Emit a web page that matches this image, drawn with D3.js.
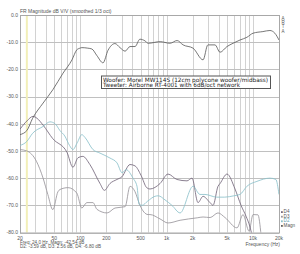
<!DOCTYPE html>
<html>
<head>
<meta charset="utf-8">
<script src="https://cdn.jsdelivr.net/npm/d3@7"></script>
<style>
  body { margin: 0; background: #fff; }
  svg { display: block; font-family: "Liberation Sans", Arial, sans-serif; }
</style>
</head>
<body>
<div id="chart"></div>
<script>
var width = 300,
    height = 254;

// frequency response, dB V/V
var magnFreq = [20, 24, 28, 37, 48, 63, 80, 91, 99, 104, 122, 136, 156, 183, 209, 252, 288, 330, 376, 430, 490, 560, 610, 840, 1090, 1320, 1550, 2020, 2640, 3000, 3630, 4150, 5000, 5870, 7070, 8500, 10000, 13000, 15700, 17900, 20000];
var magnDb = [-44, -42.5, -38, -32.4, -27.5, -21.4, -16.5, -12.8, -12.2, -12, -12.2, -12.5, -15, -17.6, -13, -10.5, -12, -13.3, -11.6, -11.6, -8.9, -9.5, -10.4, -9.8, -10.4, -9.4, -11, -12.2, -16.5, -11, -11, -13.7, -11.6, -10.4, -9.2, -8.2, -6.7, -6.1, -5.7, -6.7, -9.2];

var d2Freq = [20, 24, 28, 37, 44.5, 51, 58, 66, 75, 82, 92, 104, 113, 140, 169, 220, 266, 304, 340, 407, 453, 480, 520, 600, 730, 800, 956, 1150, 1430, 2020, 2430, 2780, 3800, 4700, 6000, 7070, 8500, 11100, 15700, 18400, 20000];
var d2Db = [-48, -46.5, -43.5, -41, -39.3, -40, -42.5, -44.5, -48, -49.5, -47, -44, -45, -49.5, -50.8, -52.6, -54.4, -58, -56.9, -60, -63, -69.7, -70, -68.5, -66.7, -66.5, -68, -70, -72.8, -63, -66, -66, -67, -67, -66.5, -66, -63, -61.2, -60, -60.5, -66];

var d3Freq = [20, 24, 31, 37, 42, 48, 55, 58, 72, 91, 104, 119, 140, 156, 204, 252, 330, 376, 430, 490, 608, 640, 837, 1036, 1430, 2260, 2640, 3180, 3930, 4740, 6530, 7660, 9000, 10000, 11400, 12400];
var d3Db = [-49.5, -50, -53.8, -60, -66, -71.6, -65, -64.2, -63.5, -65.5, -71, -69, -69, -71.5, -72.8, -71, -70.5, -63, -65, -70, -73.4, -73.4, -75, -76.5, -75.5, -74.6, -74.3, -74.5, -72.8, -74.5, -78.3, -73.4, -79.5, -73.4, -73.5, -81];

var d4Freq = [20, 24, 28.3, 31.5, 37, 48, 70, 82, 94, 107, 129, 169, 190, 220, 265, 303, 376, 430, 505, 587, 640, 837, 1036, 1317, 1720, 1966, 2307, 2637, 3176, 3441, 3933, 4148, 5000, 6189, 7262, 8298, 9233, 9739];
var d4Db = [-42, -39, -37.3, -38, -40.5, -45.5, -50.5, -56, -52.5, -52, -55, -62, -64.5, -62, -60.5, -59.5, -55, -55.5, -59, -63.5, -64, -62, -58.5, -60.5, -61, -60, -69, -66.7, -69, -70, -63, -62, -58.5, -64, -70, -74, -78, -81];

var xTicks = [20, 50, 100, 200, 500, 1000, 2000, 5000, 10000, 20000];
var xTickLabels = ["20", "50", "100", "200", "500", "1k", "2k", "5k", "10k", "20k"];
var xGrid = [30, 40, 50, 60, 70, 80, 90, 100, 200, 300, 400, 500, 600, 700, 800, 900, 1000, 2000, 3000, 4000, 5000, 6000, 7000, 8000, 9000, 10000];
var yTicks = [0, -10, -20, -30, -40, -50, -60, -70, -80];
var cursorFreq = 24;

var legendNames = ["D4", "D3", "D2", "Magn"];
var legendColors = ["#75687c", "#9a969c", "#8cc2cb", "#5e5e5e"];

var svg = d3.select("#chart").append("svg").attr("width", width).attr("height", height);

var x = d3.scaleLog().domain([20, 20000]).range([20, 279]);
var y = d3.scaleLinear().domain([0, -80]).range([15, 232.5]);

svg.append("defs").append("clipPath").attr("id", "plotclip")
  .append("rect")
  .attr("x", x.range()[0]).attr("y", y.range()[0])
  .attr("width", x.range()[1] - x.range()[0])
  .attr("height", y.range()[1] - y.range()[0]);

// grid
svg.append("g").selectAll("line")
  .data(xGrid)
  .enter().append("line")
  .attr("x1", function(d) { return Math.round(x(d)) + 0.5; })
  .attr("x2", function(d) { return Math.round(x(d)) + 0.5; })
  .attr("y1", y.range()[0]).attr("y2", y.range()[1])
  .attr("stroke", "#d2d2d2").attr("stroke-width", 1);

svg.append("g").selectAll("line")
  .data(yTicks)
  .enter().append("line")
  .attr("x1", x.range()[0]).attr("x2", x.range()[1])
  .attr("y1", function(d) { return Math.round(y(d)) + 0.5; })
  .attr("y2", function(d) { return Math.round(y(d)) + 0.5; })
  .attr("stroke", "#c0c0c0").attr("stroke-width", 1);

// cursor
svg.append("line")
  .attr("x1", x(cursorFreq)).attr("x2", x(cursorFreq))
  .attr("y1", y.range()[0]).attr("y2", y.range()[1])
  .attr("stroke", "#f2efb8").attr("stroke-width", 2);

// frame
svg.append("rect")
  .attr("x", x.range()[0] + 0.5).attr("y", y.range()[0] + 0.5)
  .attr("width", x.range()[1] - x.range()[0])
  .attr("height", y.range()[1] - y.range()[0])
  .attr("fill", "none").attr("stroke", "#a8a8a8");

var line = d3.line()
  .x(function(d) { return x(d[0]); })
  .y(function(d) { return y(d[1]); })
  .curve(d3.curveMonotoneX);

var series = [
  { name: "D3", f: d3Freq, v: d3Db, color: legendColors[1] },
  { name: "D4", f: d4Freq, v: d4Db, color: legendColors[0] },
  { name: "D2", f: d2Freq, v: d2Db, color: legendColors[2] },
  { name: "Magn", f: magnFreq, v: magnDb, color: legendColors[3] }
];

svg.append("g").attr("clip-path", "url(#plotclip)")
  .selectAll("path")
  .data(series)
  .enter().append("path")
  .attr("d", function(s) { return line(d3.zip(s.f, s.v)); })
  .attr("fill", "none")
  .attr("stroke", function(s) { return s.color; })
  .attr("stroke-width", 0.85);

// axis labels
svg.append("g").selectAll("text")
  .data(yTicks)
  .enter().append("text")
  .attr("x", 18).attr("y", function(d) { return y(d) + 1.8; })
  .attr("text-anchor", "end")
  .attr("font-size", 5).attr("fill", "#555")
  .text(function(d) { return d.toFixed(1); });

svg.append("g").selectAll("text")
  .data(xTicks)
  .enter().append("text")
  .attr("x", function(d) { return x(d); }).attr("y", 240)
  .attr("text-anchor", "middle")
  .attr("font-size", 5).attr("fill", "#555")
  .text(function(d, i) { return xTickLabels[i]; });

svg.append("text")
  .attr("x", 280).attr("y", 245.5)
  .attr("text-anchor", "end")
  .attr("font-size", 5).attr("fill", "#555")
  .text("Frequency (Hz)");

svg.append("text")
  .attr("x", 20).attr("y", 12.5)
  .attr("font-size", 5).attr("fill", "#555")
  .text("FR Magnitude dB V/V (smoothed 1/3 oct)");

svg.append("text")
  .attr("x", 20).attr("y", 243.5)
  .attr("font-size", 4.6).attr("fill", "#555")
  .text("Freq: 24.0 Hz, Magn: -42.54 dB");

svg.append("text")
  .attr("x", 20).attr("y", 248)
  .attr("font-size", 4.6).attr("fill", "#555")
  .text("D2: -3.59 dB, D3: 2.56 dB, D4: -6.80 dB");

// ARTA
svg.append("g").selectAll("text")
  .data(["A", "R", "T", "A"])
  .enter().append("text")
  .attr("x", 283).attr("y", function(d, i) { return 20 + i * 4.2; })
  .attr("text-anchor", "middle")
  .attr("font-size", 4.5).attr("fill", "#555")
  .text(function(d) { return d; });

// note box
var note = svg.append("g").attr("font-family", "'DejaVu Sans', sans-serif");
note.append("rect")
  .attr("x", 101.5).attr("y", 76).attr("width", 169).attr("height", 12.5)
  .attr("fill", "#fff").attr("stroke", "#555").attr("stroke-width", 1);
note.append("text")
  .attr("x", 103).attr("y", 81.6)
  .attr("font-size", 5.9).attr("fill", "#222")
  .attr("textLength", 165).attr("lengthAdjust", "spacingAndGlyphs")
  .text("Woofer: Morel MW114S (12cm polycone woofer/midbass)");
note.append("text")
  .attr("x", 103).attr("y", 87)
  .attr("font-size", 5.9).attr("fill", "#222")
  .attr("textLength", 137).attr("lengthAdjust", "spacingAndGlyphs")
  .text("Tweeter: Airborne RT-4001 with 6dB/oct network");

// legend
var legend = svg.append("g").selectAll("g")
  .data(legendNames)
  .enter().append("g")
  .attr("transform", function(d, i) { return "translate(281," + (213 + i * 4.6) + ")"; });
legend.append("rect")
  .attr("x", 0).attr("y", -1.8).attr("width", 1.8).attr("height", 1.8)
  .attr("fill", function(d, i) { return legendColors[i]; });
legend.append("text")
  .attr("x", 2.6).attr("y", 0)
  .attr("font-size", 4.6)
  .attr("fill", function(d, i) { return i == 2 ? "#5f9fb0" : "#555"; })
  .text(function(d) { return d; });
</script>
</body>
</html>
